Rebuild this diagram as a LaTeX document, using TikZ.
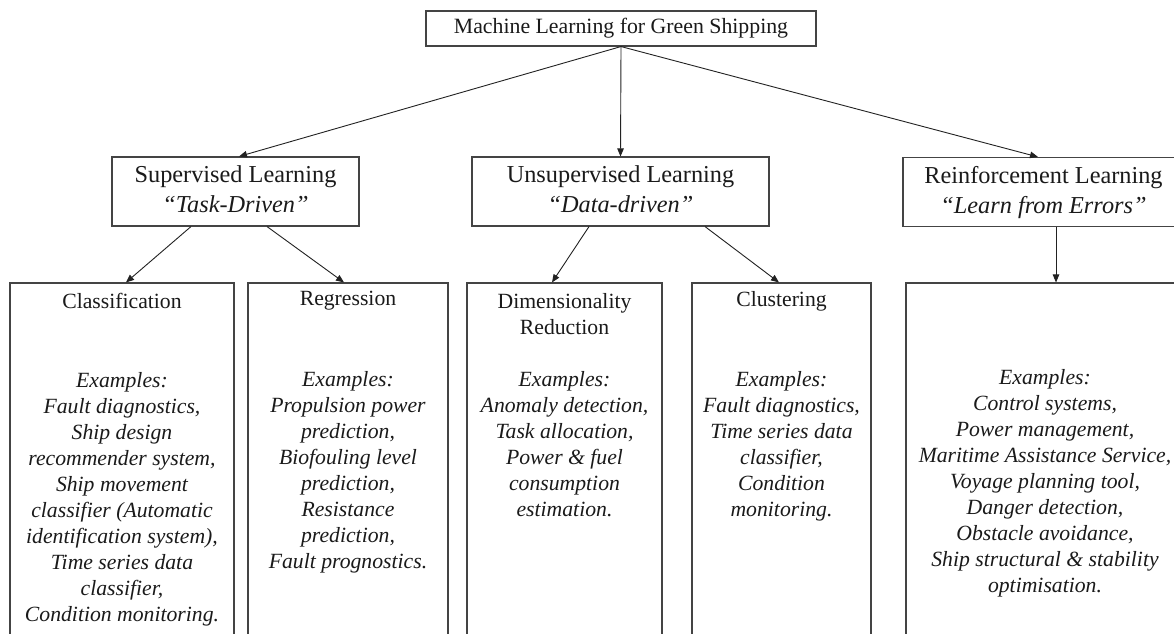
\documentclass[tikz,border=0pt]{standalone}
\usepackage{fontspec}
\setmainfont{Liberation Serif}
\usetikzlibrary{arrows.meta}
\newcommand\fontTop{\fontsize{21.8}{26}\selectfont}
\newcommand\fontMid{\fontsize{24.3}{30}\selectfont}
\newcommand\fontLow{\fontsize{21.7}{26}\selectfont}
\definecolor{lc}{HTML}{444444}
\definecolor{ac}{HTML}{222222}
\definecolor{tc}{HTML}{1A1A1A}
\begin{document}
\begin{tikzpicture}[x=1pt,y=-1pt,
  box/.style={draw=lc,line width=1.1pt,inner sep=0pt,text=tc,align=center},
  lbl/.style={inner sep=0pt,text=tc,align=center,font=\fontLow},
  exl/.style={lbl,font=\fontLow\itshape},
  conn/.style={draw=ac,line width=0.9pt,-{Triangle[length=8pt,width=6.5pt]}}]
\useasboundingbox (0,0) rectangle (1174,633);
\clip (0,0) rectangle (1174,633);
\fill[white] (0,0) rectangle (1174,633);

% top
\node[box,font=\fontTop,minimum width=390pt,minimum height=35pt] (top) at (621,28.5) {\strut Machine Learning for Green Shipping};

% level 2
\node[box,font=\fontMid,minimum width=247pt,minimum height=69pt] (sup) at (235.5,191.5)
  {\strut Supervised Learning\\\textit{“Task-Driven”}\strut};
\node[box,font=\fontMid,minimum width=297pt,minimum height=69pt] (uns) at (620.5,191.5)
  {\strut Unsupervised Learning\\\textit{“Data-driven”}\strut};
\node[box,font=\fontMid,minimum width=281pt,minimum height=69pt] (rl) at (1043.5,192)
  {\strut Reinforcement Learning\\\textit{“Learn from Errors”}\strut};

% level 3 boxes
\node[box,minimum width=224pt,minimum height=377pt] (cls) at (122,471.5) {};
\node[box,minimum width=200pt,minimum height=377pt] (reg) at (348,471.5) {};
\node[box,minimum width=195pt,minimum height=377pt] (dim) at (564.5,471.5) {};
\node[box,minimum width=179pt,minimum height=377pt] (clu) at (781.5,471.5) {};
\node[box,minimum width=278pt,minimum height=377pt] (rlx) at (1045,471.5) {};

% level 3 texts
\node[lbl] (clsT) at (122,303) {\strut Classification\strut};
\node[exl] (clsE) at (122,499) {\strut Examples:\\Fault diagnostics,\\Ship design\\recommender system,\\Ship movement\\classifier (Automatic\\identification system),\\Time series data\\classifier,\\Condition monitoring.\strut};

\node[lbl] (regT) at (348,300) {\strut Regression\strut};
\node[exl] (regE) at (348,472) {\strut Examples:\\Propulsion power\\prediction,\\Biofouling level\\prediction,\\Resistance\\prediction,\\Fault prognostics.\strut};

\node[lbl] (dimT) at (564.5,316) {\strut Dimensionality\\Reduction\strut};
\node[exl] (dimE) at (564.5,446) {\strut Examples:\\Anomaly detection,\\Task allocation,\\Power \& fuel\\consumption\\estimation.\strut};

\node[lbl] (cluT) at (781.5,301) {\strut Clustering\strut};
\node[exl] (cluE) at (781.5,446) {\strut Examples:\\Fault diagnostics,\\Time series data\\classifier,\\Condition\\monitoring.\strut};

\node[exl] (rlxE) at (1045,483) {\strut Examples:\\Control systems,\\Power management,\\Maritime Assistance Service,\\Voyage planning tool,\\Danger detection,\\Obstacle avoidance,\\Ship structural \& stability\\optimisation.\strut};

% connectors
\draw[conn] (top.south) -- ([xshift=3.5pt]sup.north);
\draw[conn] (top.south) -- (uns.north);
\draw[conn] (top.south) -- ([xshift=-5.5pt]rl.north);

\draw[conn] ([xshift=-44.5pt]sup.south) -- ([xshift=4pt]cls.north);
\draw[conn] ([xshift=31.5pt]sup.south) -- ([xshift=-4pt]reg.north);
\draw[conn] ([xshift=-31.5pt]uns.south) -- ([xshift=-12.5pt]dim.north);
\draw[conn] ([xshift=84.5pt]uns.south) -- ([xshift=-2.5pt]clu.north);
\draw[conn] ([xshift=12.5pt]rl.south) -- ([xshift=11pt]rlx.north);
\end{tikzpicture}
\end{document}
